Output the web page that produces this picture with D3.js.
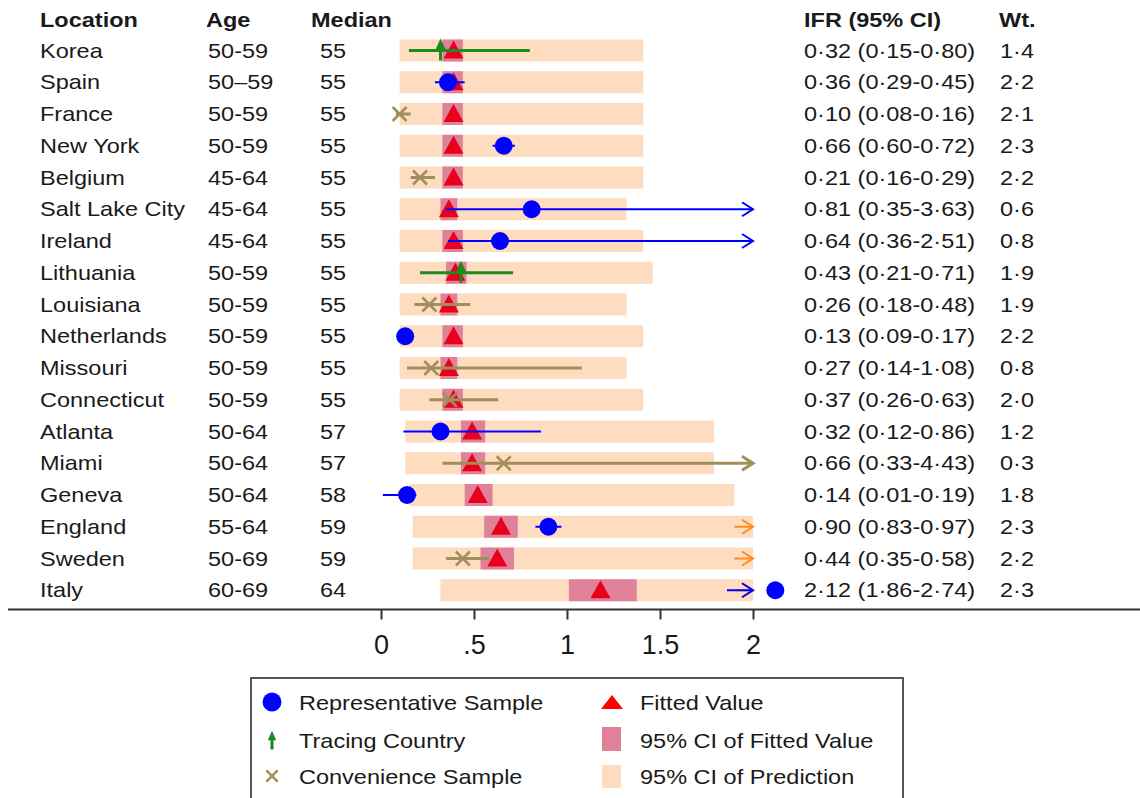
<!DOCTYPE html>
<html>
<head>
<meta charset="utf-8">
<script src="https://cdnjs.cloudflare.com/ajax/libs/d3/7.8.5/d3.min.js"></script>
<style>
  body { margin: 0; background: #fff; }
  text { font-family: "Liberation Sans", Arial, sans-serif; fill: #1a1a1a; }
</style>
</head>
<body>
<div id="chart"></div>
<script>
// Data
var locations = ["Korea", "Spain", "France", "New York", "Belgium", "Salt Lake City", "Ireland",
    "Lithuania", "Louisiana", "Netherlands", "Missouri", "Connecticut", "Atlanta", "Miami",
    "Geneva", "England", "Sweden", "Italy"];
var ages = ["50-59", "50\u201359", "50-59", "50-59", "45-64", "45-64", "45-64", "50-59", "50-59",
    "50-59", "50-59", "50-59", "50-64", "50-64", "50-64", "55-64", "50-69", "60-69"];
var medians = [55, 55, 55, 55, 55, 55, 55, 55, 55, 55, 55, 55, 57, 57, 58, 59, 59, 64];
// rep = representative sample, trace = tracing country, conv = convenience sample
var sampleType = ["trace", "rep", "conv", "rep", "conv", "rep", "rep", "trace", "conv", "rep",
    "conv", "conv", "rep", "conv", "rep", "rep", "conv", "rep"];
var ifr = [0.32, 0.36, 0.10, 0.66, 0.21, 0.81, 0.64, 0.43, 0.26, 0.13, 0.27, 0.37, 0.32, 0.66, 0.14, 0.90, 0.44, 2.12];
var ifrLow = [0.15, 0.29, 0.08, 0.60, 0.16, 0.35, 0.36, 0.21, 0.18, 0.09, 0.14, 0.26, 0.12, 0.33, 0.01, 0.83, 0.35, 1.86];
var ifrHigh = [0.80, 0.45, 0.16, 0.72, 0.29, 3.63, 2.51, 0.71, 0.48, 0.17, 1.08, 0.63, 0.86, 4.43, 0.19, 0.97, 0.58, 2.74];
var weights = ["1\u00b74", "2\u00b72", "2\u00b71", "2\u00b73", "2\u00b72", "0\u00b76", "0\u00b78", "1\u00b79", "1\u00b79",
    "2\u00b72", "0\u00b78", "2\u00b70", "1\u00b72", "0\u00b73", "1\u00b78", "2\u00b73", "2\u00b72", "2\u00b73"];
var fitted = [0.39, 0.39, 0.39, 0.39, 0.39, 0.365, 0.39, 0.40, 0.365, 0.39, 0.365, 0.39, 0.49, 0.49, 0.52, 0.645, 0.625, 1.18];
var fitLow = [0.33, 0.33, 0.33, 0.33, 0.33, 0.32, 0.33, 0.35, 0.32, 0.33, 0.32, 0.33, 0.43, 0.43, 0.45, 0.555, 0.535, 1.01];
var fitHigh = [0.44, 0.44, 0.44, 0.44, 0.44, 0.41, 0.44, 0.46, 0.41, 0.44, 0.41, 0.44, 0.56, 0.56, 0.60, 0.735, 0.715, 1.375];
var predLow = [0.10, 0.10, 0.10, 0.10, 0.10, 0.10, 0.10, 0.10, 0.10, 0.10, 0.10, 0.10, 0.13, 0.13, 0.15, 0.17, 0.17, 0.32];
var predHigh = [1.41, 1.41, 1.41, 1.41, 1.41, 1.32, 1.41, 1.46, 1.32, 1.41, 1.32, 1.41, 1.79, 1.79, 1.90, 2.2, 2.15, 3.0];

var tickValues = [0, 0.5, 1, 1.5, 2];
var tickLabels = ["0", ".5", "1", "1.5", "2"];
var legendLabels = ["Representative Sample", "Tracing Country", "Convenience Sample",
    "Fitted Value", "95% CI of Fitted Value", "95% CI of Prediction"];

var svgWidth = 1140;
var svgHeight = 798;
var xMax = 2;

var colors = {
    rep: "#0000ff",
    trace: "#1d8a1d",
    conv: "#a08f5a",
    fit: "#e8001c",
    fitCI: "#de8199",
    pred: "#fddcc0",
    arrow: "#ff8c1a"
};

var rows = locations.map(function(d, i) {
    return {
        loc: d, age: ages[i], median: medians[i], type: sampleType[i],
        ifr: ifr[i], lo: ifrLow[i], hi: ifrHigh[i], wt: weights[i],
        fit: fitted[i], fitLo: fitLow[i], fitHi: fitHigh[i],
        predLo: predLow[i], predHi: predHigh[i]
    };
});

var svg = d3.select("#chart")
    .append("svg")
    .attr("width", svgWidth)
    .attr("height", svgHeight);

// scales
var xScale = d3.scaleLinear()
    .domain([0, 2])
    .range([381, 753]);

var yScale = d3.scalePoint()
    .domain(locations)
    .range([50.5, 590.25]);

var sx = 1.12; // the text in the picture is a bit wide
function addText(g, x, y, str, size, bold) {
    return g.append("text")
        .attr("transform", `translate(${x}, ${y}) scale(${sx}, 1)`)
        .attr("font-size", size + "px")
        .attr("font-weight", bold ? "bold" : "normal")
        .text(str);
}

function fmt(v) {
    return v.toFixed(2).replace(".", "\u00b7");
}

// header
var header = svg.append("g");
addText(header, 40, 27, "Location", 21, true);
addText(header, 206, 27, "Age", 21, true);
addText(header, 311, 27, "Median", 21, true);
addText(header, 804, 27, "IFR (95% CI)", 21, true);
addText(header, 999, 27, "Wt.", 21, true);

// table columns
var table = svg.append("g");
rows.forEach(function(d) {
    var y = yScale(d.loc) + 7;
    addText(table, 40, y, d.loc, 21, false);
    addText(table, 208, y, d.age, 21, false);
    addText(table, 320, y, d.median, 21, false);
    addText(table, 804, y, fmt(d.ifr) + " (" + fmt(d.lo) + "-" + fmt(d.hi) + ")", 21, false);
    addText(table, 1000, y, d.wt, 21, false);
});

var bandH = 22;
var plot = svg.append("g");

// prediction interval bands
plot.selectAll(".pred")
    .data(rows)
    .enter()
    .append("rect")
    .attr("class", "pred")
    .attr("x", d => xScale(d.predLo))
    .attr("y", d => yScale(d.loc) - bandH / 2)
    .attr("width", d => xScale(Math.min(d.predHi, xMax)) - xScale(d.predLo))
    .attr("height", bandH)
    .attr("fill", colors.pred);

// fitted CI bands
plot.selectAll(".fitci")
    .data(rows)
    .enter()
    .append("rect")
    .attr("class", "fitci")
    .attr("x", d => xScale(d.fitLo))
    .attr("y", d => yScale(d.loc) - bandH / 2)
    .attr("width", d => xScale(d.fitHi) - xScale(d.fitLo))
    .attr("height", bandH)
    .attr("fill", colors.fitCI);

// fitted triangles
plot.selectAll(".fit")
    .data(rows)
    .enter()
    .append("path")
    .attr("class", "fit")
    .attr("d", function(d) {
        var x = xScale(d.fit), y = yScale(d.loc);
        return `M${x},${y - 10}L${x + 10},${y + 8}L${x - 10},${y + 8}Z`;
    })
    .attr("fill", colors.fit);

function arrow(g, x1, x2, y, color, w) {
    g.append("line")
        .attr("x1", x1).attr("x2", x2)
        .attr("y1", y).attr("y2", y)
        .attr("stroke", color)
        .attr("stroke-width", w);
    g.append("path")
        .attr("d", `M${x2 - 11},${y - 7}L${x2},${y}L${x2 - 11},${y + 7}`)
        .attr("fill", "none")
        .attr("stroke", color)
        .attr("stroke-width", w);
}

// orange arrows where the prediction interval goes past 2
rows.filter(d => d.predHi > xMax).forEach(function(d) {
    arrow(plot, xScale(xMax - 0.1), xScale(xMax), yScale(d.loc), colors.arrow, 2);
});

// CI whiskers
var lineW = { rep: 2, trace: 3, conv: 3 };
rows.forEach(function(d) {
    var y = yScale(d.loc);
    var c = colors[d.type];
    if (d.hi > xMax) {
        arrow(plot, xScale(d.lo), xScale(xMax), y, c, lineW[d.type]);
    } else {
        plot.append("line")
            .attr("x1", xScale(d.lo)).attr("x2", xScale(d.hi))
            .attr("y1", y).attr("y2", y)
            .attr("stroke", c)
            .attr("stroke-width", lineW[d.type]);
    }
});

// markers
function marker(g, type, x, y, s) {
    if (type == "rep") {
        g.append("circle")
            .attr("cx", x).attr("cy", y).attr("r", 9 * s)
            .attr("fill", colors.rep);
    } else if (type == "trace") {
        g.append("path")
            .attr("d", `M${x},${y - 12 * s}L${x + 5 * s},${y - 1 * s}L${x - 5 * s},${y - 1 * s}Z`)
            .attr("fill", colors.trace);
        g.append("line")
            .attr("x1", x).attr("x2", x)
            .attr("y1", y - 3 * s).attr("y2", y + 10 * s)
            .attr("stroke", colors.trace)
            .attr("stroke-width", 3);
    } else {
        var k = 7 * s;
        g.append("path")
            .attr("d", `M${x - k},${y - k}L${x + k},${y + k}M${x - k},${y + k}L${x + k},${y - k}`)
            .attr("stroke", colors.conv)
            .attr("stroke-width", 2.5);
    }
}

rows.forEach(function(d) {
    marker(plot, d.type, xScale(d.ifr), yScale(d.loc), 1);
});

// x axis
var xAxis = d3.axisBottom(xScale)
    .tickValues(tickValues)
    .tickFormat((d, i) => tickLabels[i])
    .tickSize(10)
    .tickPadding(15);

var axisG = svg.append("g")
    .attr("transform", "translate(0, 609.5)")
    .call(xAxis);
axisG.select(".domain").remove();
axisG.selectAll(".tick line").attr("stroke", "#333").attr("stroke-width", 2);
axisG.selectAll(".tick text")
    .attr("font-size", "27px")
    .attr("font-family", "Liberation Sans, Arial, sans-serif")
    .attr("fill", "#1a1a1a");

svg.append("line")
    .attr("x1", 8).attr("x2", 1140)
    .attr("y1", 609.5).attr("y2", 609.5)
    .attr("stroke", "#333")
    .attr("stroke-width", 2);

// legend
var legend = svg.append("g");
legend.append("rect")
    .attr("x", 251).attr("y", 678)
    .attr("width", 652).attr("height", 140)
    .attr("fill", "#fff")
    .attr("stroke", "#555")
    .attr("stroke-width", 2);

var legendY = [702, 740, 776];
marker(legend, "rep", 272, legendY[0], 1.05);
marker(legend, "trace", 272, legendY[1] + 1, 0.85);
marker(legend, "conv", 272, legendY[2], 0.8);
legendLabels.slice(0, 3).forEach(function(t, i) {
    addText(legend, 299, legendY[i] + 8, t, 21, false);
});

legend.append("path")
    .attr("d", `M612,${legendY[0] - 7}L623,${legendY[0] + 7}L601,${legendY[0] + 7}Z`)
    .attr("fill", "#ff0000");
legend.append("rect")
    .attr("x", 602).attr("y", legendY[1] - 13)
    .attr("width", 19).attr("height", 24)
    .attr("fill", colors.fitCI);
legend.append("rect")
    .attr("x", 602).attr("y", legendY[2] - 11)
    .attr("width", 19).attr("height", 23)
    .attr("fill", colors.pred);
legendLabels.slice(3).forEach(function(t, i) {
    addText(legend, 640, legendY[i] + 8, t, 21, false);
});
</script>
</body>
</html>
